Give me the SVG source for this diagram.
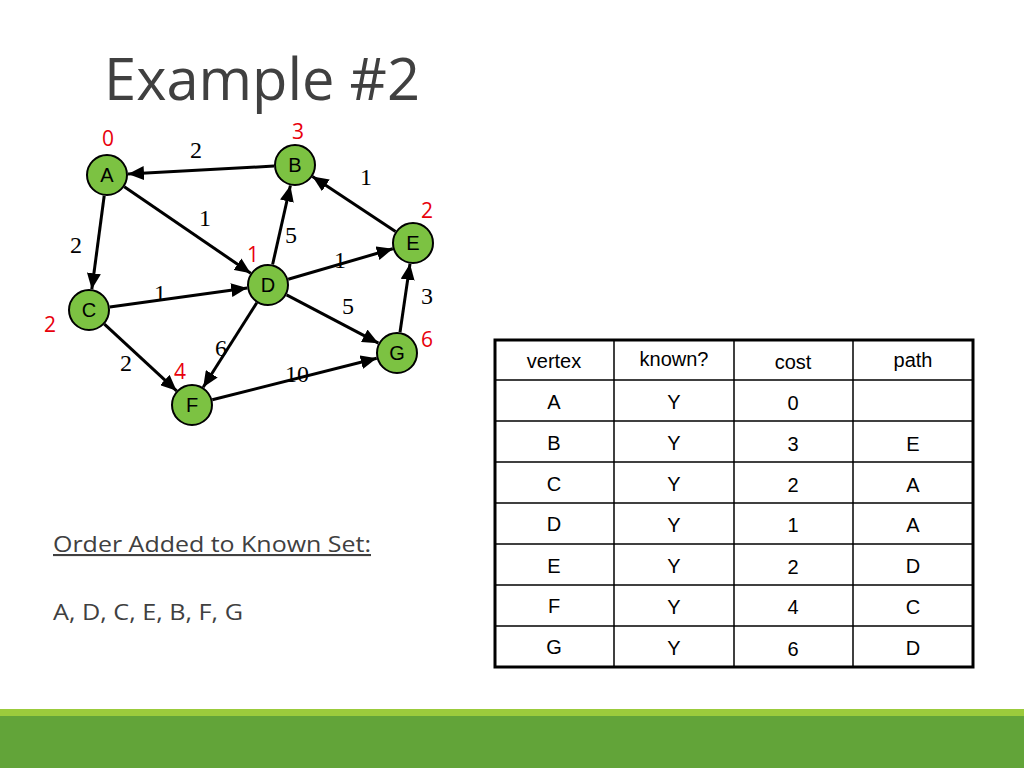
<svg xmlns="http://www.w3.org/2000/svg" width="1024" height="768" viewBox="0 0 1024 768">
<style>
.n circle{fill:#7cc242;stroke:#000;stroke-width:2}
.n text{font-family:"Liberation Sans",Arial,sans-serif;font-size:20px;text-anchor:middle;fill:#000}
.e line{stroke:#000;stroke-width:3;marker-end:url(#ah)}
.w{font-family:"Liberation Serif","Times New Roman",serif;font-size:24px;fill:#000;text-anchor:middle}
.r{font-family:"Open Sans","Liberation Sans",sans-serif;font-size:21px;fill:#e8000b;text-anchor:middle}
.t{font-family:"Liberation Sans",Arial,sans-serif;font-size:20px;fill:#000;text-anchor:middle}
.g{stroke:#000;stroke-width:1.5}
.c{font-family:"Open Sans","Liberation Sans",sans-serif;fill:#404040}
</style>
<defs><marker id="ah" markerUnits="userSpaceOnUse" markerWidth="18" markerHeight="14" refX="16" refY="7" orient="auto"><path d="M0,0 L16,7 L0,14 Z" fill="#000"/></marker></defs>
<rect width="1024" height="768" fill="#fff"/>
<rect x="0" y="709" width="1024" height="7" fill="#9bcb3c"/>
<rect x="0" y="716" width="1024" height="52" fill="#62a439"/>
<text class="c" x="104" y="100" font-size="59" textLength="316" lengthAdjust="spacingAndGlyphs">Example #2</text>
<g class="e" id="edges">
<line x1="104.2" y1="195.8" x2="91.8" y2="289.2"/>
<line x1="274" y1="166.1" x2="128" y2="173.9"/>
<line x1="124.3" y1="186.8" x2="250.7" y2="273.2"/>
<line x1="109.8" y1="307.1" x2="247.2" y2="287.9"/>
<line x1="104.4" y1="324.2" x2="176.6" y2="390.8"/>
<line x1="272.6" y1="264.5" x2="290.4" y2="185.5"/>
<line x1="288.2" y1="279.2" x2="392.8" y2="248.8"/>
<line x1="286.6" y1="294.8" x2="378.4" y2="343.2"/>
<line x1="256.8" y1="302.7" x2="203.2" y2="387.3"/>
<line x1="395.5" y1="231.4" x2="312.5" y2="176.6"/>
<line x1="400" y1="332.2" x2="410" y2="263.8"/>
<line x1="212.3" y1="399.8" x2="376.7" y2="358.2"/>
</g>
<g id="weights">
<text class="w" x="196" y="158">2</text><text class="w" x="366" y="185">1</text>
<text class="w" x="205" y="226">1</text><text class="w" x="291" y="243">5</text>
<text class="w" x="76" y="253">2</text><text class="w" x="340" y="268">1</text>
<text class="w" x="160" y="301">1</text><text class="w" x="427" y="304">3</text>
<text class="w" x="348" y="314">5</text><text class="w" x="221" y="356">6</text>
<text class="w" x="126" y="371">2</text><text class="w" x="297" y="382">10</text>
</g>
<g id="costs">
<text class="r" x="108" y="146">0</text><text class="r" x="298" y="139">3</text>
<text class="r" x="427" y="218">2</text><text class="r" x="253" y="262">1</text>
<text class="r" x="50" y="332">2</text><text class="r" x="427" y="347">6</text>
<text class="r" x="180" y="379">4</text>
</g>
<g id="A" class="n"><circle cx="107" cy="175" r="20"/><text x="107" y="182">A</text></g>
<g id="B" class="n"><circle cx="295" cy="165" r="20"/><text x="295" y="172">B</text></g>
<g id="E" class="n"><circle cx="413" cy="243" r="20"/><text x="413" y="250">E</text></g>
<g id="D" class="n"><circle cx="268" cy="285" r="20"/><text x="268" y="292">D</text></g>
<g id="C" class="n"><circle cx="89" cy="310" r="20"/><text x="89" y="317">C</text></g>
<g id="G" class="n"><circle cx="397" cy="353" r="20"/><text x="397" y="360">G</text></g>
<g id="F" class="n"><circle cx="192" cy="405" r="20"/><text x="192" y="412">F</text></g>
<text class="c" x="53" y="552" font-size="21" textLength="318" lengthAdjust="spacingAndGlyphs" text-decoration="underline">Order Added to Known Set:</text>
<text class="c" x="53" y="620" font-size="21" textLength="190" lengthAdjust="spacingAndGlyphs">A, D, C, E, B, F, G</text>
<g id="table">
<rect x="495" y="340" width="478" height="327" fill="#fff" stroke="#000" stroke-width="3"/>
<g class="g">
<line x1="614" y1="340" x2="614" y2="667"/><line x1="734" y1="340" x2="734" y2="667"/><line x1="853" y1="340" x2="853" y2="667"/>
<line x1="495" y1="380" x2="973" y2="380"/><line x1="495" y1="421" x2="973" y2="421"/><line x1="495" y1="462" x2="973" y2="462"/>
<line x1="495" y1="503" x2="973" y2="503"/><line x1="495" y1="544" x2="973" y2="544"/><line x1="495" y1="585" x2="973" y2="585"/>
<line x1="495" y1="626" x2="973" y2="626"/>
</g>
<text class="t" x="554" y="368">vertex</text><text class="t" x="674" y="366">known?</text><text class="t" x="793" y="369">cost</text><text class="t" x="913" y="367">path</text>
<text class="t" x="554" y="409">A</text><text class="t" x="674" y="409">Y</text><text class="t" x="793" y="410">0</text>
<text class="t" x="554" y="450">B</text><text class="t" x="674" y="450">Y</text><text class="t" x="793" y="451">3</text><text class="t" x="913" y="451">E</text>
<text class="t" x="554" y="491">C</text><text class="t" x="674" y="491">Y</text><text class="t" x="793" y="492">2</text><text class="t" x="913" y="492">A</text>
<text class="t" x="554" y="531">D</text><text class="t" x="674" y="532">Y</text><text class="t" x="793" y="532">1</text><text class="t" x="913" y="532">A</text>
<text class="t" x="554" y="573">E</text><text class="t" x="674" y="573">Y</text><text class="t" x="793" y="574">2</text><text class="t" x="913" y="573">D</text>
<text class="t" x="554" y="613">F</text><text class="t" x="674" y="614">Y</text><text class="t" x="793" y="614">4</text><text class="t" x="913" y="614">C</text>
<text class="t" x="554" y="654">G</text><text class="t" x="674" y="655">Y</text><text class="t" x="793" y="656">6</text><text class="t" x="913" y="655">D</text>
</g>
</svg>
